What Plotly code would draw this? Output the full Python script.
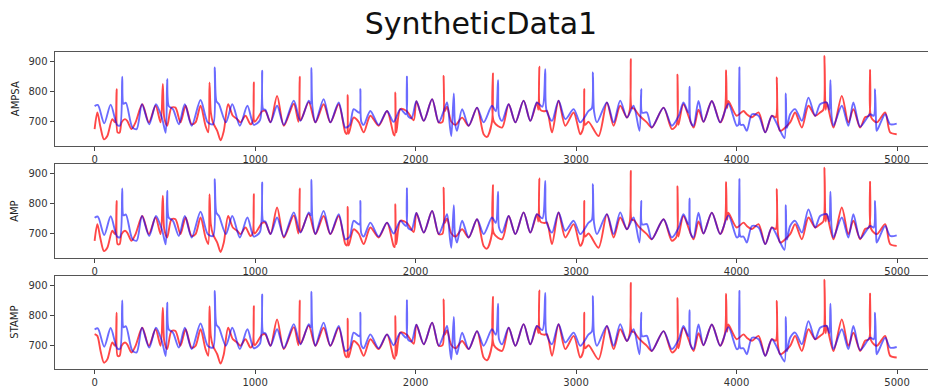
import plotly.graph_objects as go

# Sample index (t) and value knots for the two series, shared by the three panels
blue_t = [0, 20, 60, 100, 140, 158, 172, 180, 195, 235, 262, 295, 340, 382, 420, 443, 452, 462, 488, 525,
          562, 605, 660, 705, 738, 749, 759, 775, 818, 858, 905, 952, 992, 1030, 1044, 1050, 1064, 1096, 1137, 1179,
          1241, 1282, 1334, 1346, 1351, 1357, 1376, 1427, 1469, 1521, 1562, 1590, 1614, 1650, 1656, 1662, 1677, 1718, 1770, 1822,
          1863, 1905, 1940, 1946, 1952, 1975, 2005, 2051, 2103, 2144, 2175, 2196, 2215, 2223, 2238, 2245, 2258, 2290, 2331, 2383,
          2424, 2476, 2500, 2514, 2520, 2539, 2580, 2622, 2673, 2715, 2756, 2790, 2808, 2815, 2850, 2891, 2933, 2985, 3026, 3078,
          3098, 3105, 3112, 3130, 3192, 3234, 3275, 3317, 3358, 3395, 3406, 3412, 3441, 3472, 3545, 3597, 3640, 3669, 3700, 3707,
          3714, 3732, 3763, 3794, 3846, 3898, 3949, 4001, 4012, 4018, 4025, 4043, 4064, 4096, 4137, 4179, 4220, 4272, 4299, 4307,
          4314, 4334, 4365, 4407, 4448, 4490, 4521, 4562, 4578, 4585, 4592, 4604, 4656, 4697, 4728, 4770, 4832, 4855, 4863, 4870,
          4874, 4926, 4957, 4998]
blue_v = [752, 756, 695, 757, 690, 688, 849, 760, 763, 682, 676, 758, 692, 758, 712, 664, 841, 752, 742, 692,
          758, 687, 772, 698, 692, 880, 768, 758, 698, 758, 687, 753, 690, 705, 869, 742, 740, 698, 753, 690,
          770, 703, 770, 760, 878, 750, 698, 775, 698, 764, 681, 690, 742, 730, 808, 700, 690, 736, 690, 736,
          700, 742, 725, 849, 720, 712, 768, 703, 775, 698, 735, 764, 680, 653, 794, 700, 670, 742, 687, 747,
          698, 753, 735, 838, 720, 703, 758, 698, 770, 703, 764, 750, 874, 740, 703, 770, 709, 742, 698, 736,
          745, 863, 735, 698, 764, 698, 770, 714, 753, 670, 808, 730, 731, 681, 747, 687, 720, 764, 730, 816,
          700, 687, 769, 700, 769, 698, 760, 687, 690, 880, 690, 690, 670, 725, 720, 665, 720, 670, 646, 794,
          680, 725, 742, 703, 780, 720, 758, 764, 740, 838, 720, 687, 753, 687, 764, 684, 725, 720, 808, 690,
          670, 725, 692, 694]

red_t = [0, 17, 37, 58, 79, 110, 127, 137, 143, 156, 168, 189, 203, 230, 255, 297, 338, 380, 411, 425,
         434, 452, 479, 504, 535, 567, 604, 629, 660, 691, 708, 716, 724, 737, 764, 785, 805, 832, 861, 888,
         909, 940, 971, 985, 992, 998, 1044, 1064, 1096, 1137, 1179, 1241, 1270, 1278, 1284, 1334, 1376, 1427, 1469, 1521,
         1562, 1572, 1577, 1583, 1614, 1645, 1677, 1718, 1770, 1822, 1863, 1870, 1874, 1880, 1905, 1946, 1988, 2005, 2051, 2103,
         2144, 2168, 2175, 2182, 2196, 2223, 2250, 2290, 2331, 2383, 2424, 2445, 2476, 2482, 2488, 2539, 2580, 2622, 2673, 2715,
         2756, 2765, 2771, 2777, 2800, 2819, 2850, 2891, 2933, 2985, 3026, 3045, 3051, 3057, 3078, 3140, 3192, 3234, 3275, 3317,
         3335, 3341, 3347, 3358, 3395, 3441, 3472, 3545, 3597, 3626, 3632, 3638, 3669, 3732, 3763, 3794, 3846, 3898, 3928, 3935,
         3941, 3949, 4001, 4043, 4064, 4096, 4137, 4179, 4220, 4244, 4251, 4258, 4272, 4334, 4365, 4407, 4448, 4490, 4521, 4541,
         4548, 4555, 4562, 4604, 4656, 4697, 4728, 4770, 4801, 4825, 4832, 4839, 4874, 4926, 4957, 4998]
red_v = [676, 731, 681, 642, 653, 709, 698, 808, 665, 665, 698, 709, 703, 676, 698, 758, 698, 753, 698, 825,
         714, 687, 747, 747, 698, 753, 692, 698, 753, 687, 665, 830, 731, 698, 670, 639, 670, 758, 720, 709,
         698, 720, 692, 700, 830, 700, 735, 736, 698, 786, 687, 760, 700, 849, 705, 765, 698, 758, 698, 758,
         665, 660, 788, 660, 714, 700, 665, 720, 687, 736, 659, 655, 797, 665, 742, 735, 705, 768, 703, 775,
         698, 700, 852, 735, 750, 700, 690, 714, 687, 747, 659, 650, 700, 860, 700, 681, 758, 698, 770, 703,
         764, 740, 882, 740, 735, 736, 665, 770, 687, 731, 659, 680, 808, 690, 700, 653, 764, 687, 753, 714,
         740, 907, 745, 745, 720, 698, 681, 747, 676, 690, 856, 690, 758, 681, 740, 700, 769, 698, 740, 871,
         745, 769, 720, 736, 725, 715, 731, 665, 720, 715, 847, 700, 670, 698, 731, 681, 753, 720, 731, 740,
         918, 740, 764, 681, 786, 698, 742, 681, 715, 720, 871, 715, 698, 731, 665, 659]

# STAMP starts its red series a little higher
red_v_stamp = [737] + red_v[1:]

panel_names = ["AMPSA", "AMP", "STAMP"]
red_by_panel = [red_v, red_v, red_v_stamp]
x_ticks = [0, 1000, 2000, 3000, 4000, 5000]
y_ticks = [700, 800, 900]

W, H = 928, 387
# panel boxes in pixels (top, bottom)
boxes = [(52.3, 146.0), (164.0, 257.7), (276.0, 369.3)]
left_px = 54.5

fig = go.Figure()
layout = dict(
    width=W, height=H,
    margin=dict(l=0, r=0, t=0, b=0),
    paper_bgcolor="white", plot_bgcolor="white",
    showlegend=False,
    font=dict(family="DejaVu Sans", size=10, color="#333"),
    title=dict(text="SyntheticData1", x=481 / W, xanchor="center", y=1 - 23 / H, yanchor="middle",
               font=dict(family="DejaVu Sans", size=30, color="#111")),
)

annotations = []
for i, name in enumerate(panel_names):
    k = "" if i == 0 else str(i + 1)
    top, bot = boxes[i]
    fig.add_trace(go.Scatter(x=red_t, y=red_by_panel[i], mode="lines", xaxis="x" + k, yaxis="y" + k,
                             line=dict(color="rgba(255,0,0,0.72)", width=1.9, shape="spline", smoothing=0.8),
                             hoverinfo="skip"))
    fig.add_trace(go.Scatter(x=blue_t, y=blue_v, mode="lines", xaxis="x" + k, yaxis="y" + k,
                             line=dict(color="rgba(0,0,255,0.58)", width=1.9, shape="spline", smoothing=0.8),
                             hoverinfo="skip"))
    layout["xaxis" + k] = dict(
        domain=[left_px / W, 1.0], range=[-250, 5193], anchor="y" + k,
        tickvals=x_ticks, ticks="outside", ticklen=4, tickcolor="#444",
        showline=True, mirror=True, linecolor="#555", linewidth=1,
        showgrid=False, zeroline=False,
    )
    layout["yaxis" + k] = dict(
        domain=[1 - bot / H, 1 - top / H], range=[620, 930], anchor="x" + k,
        tickvals=y_ticks, ticks="outside", ticklen=4, tickcolor="#444",
        showline=True, mirror=True, linecolor="#555", linewidth=1,
        showgrid=False, zeroline=False,
    )
    annotations.append(dict(text=name, x=15 / W, y=1 - (top + bot) / 2 / H, xref="paper", yref="paper",
                            textangle=-90, showarrow=False, xanchor="center", yanchor="middle",
                            font=dict(family="DejaVu Sans", size=10, color="#222")))

layout["annotations"] = annotations
fig.update_layout(**layout)
fig.write_html("out.html")
